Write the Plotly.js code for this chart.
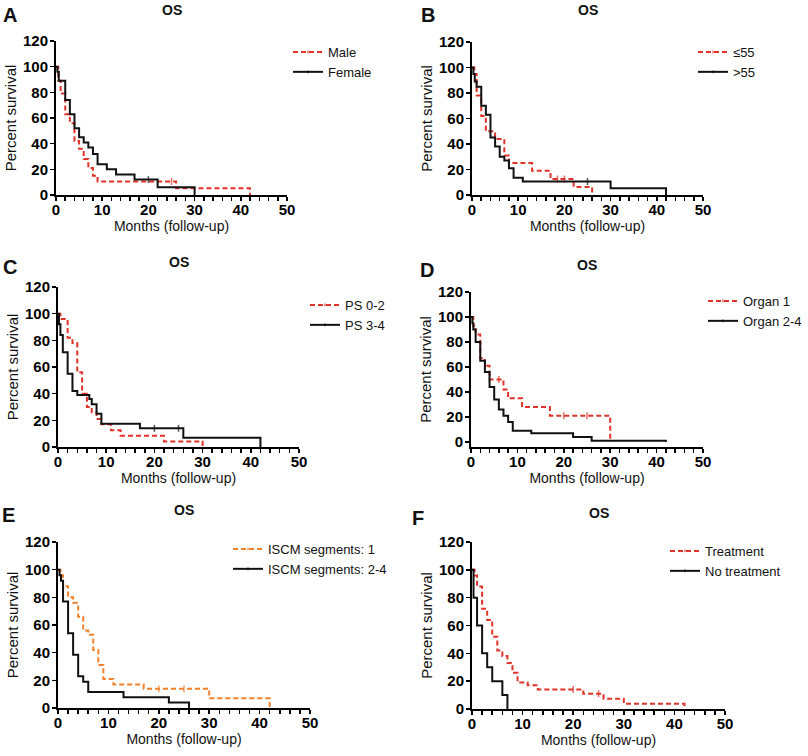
<!DOCTYPE html>
<html><head><meta charset="utf-8">
<script src="https://cdn.plot.ly/plotly-3.0.1.min.js"></script>
<style>html,body{margin:0;padding:0;background:#fff}#chart{width:808px;height:756px}</style>
</head><body><div id="chart"></div>
<script>
// ---------- data (months, percent survival, censored flag) ----------
const monthTicks = [0, 10, 20, 30, 40, 50];
const survTicks = [0, 20, 40, 60, 80, 100, 120];
const panelLetters = ["A", "B", "C", "D", "E", "F"];
const panelTitle = "OS";

// A: sex
const aMaleT = [0, 0.5, 1, 2, 3, 4, 5, 6, 7, 8, 9, 25, 26, 42];
const aMaleS = [100, 89, 79, 63, 56, 42, 36, 28, 21, 15, 10.5, 10.5, 5.3, 0];
const aMaleC = [0, 0, 0, 0, 0, 0, 0, 0, 0, 0, 0, 1, 0, 0];
const aFemaleT = [0, 0.3, 0.6, 2, 3, 4, 5, 6, 7, 8, 9, 11, 13, 17, 20, 22, 30];
const aFemaleS = [100, 96, 89, 74, 63, 52, 45, 41, 37, 32, 24, 20, 16, 12, 12, 6, 0];
const aFemaleC = [0, 0, 0, 0, 0, 0, 0, 0, 0, 0, 0, 0, 0, 0, 1, 0, 0];

// B: age
const bYoungT = [0, 0.5, 1, 2, 3, 5, 7, 8, 13, 17, 18.5, 20, 22, 26];
const bYoungS = [100, 95, 78, 62, 50, 44, 31, 25, 19, 12.5, 12.5, 12.5, 6.3, 0];
const bYoungC = [0, 0, 0, 0, 0, 0, 0, 0, 0, 0, 1, 1, 0, 0];
const bOldT = [0, 0.3, 0.6, 1, 2, 3, 4, 5, 6, 7, 8, 9, 11, 25, 30, 42];
const bOldS = [100, 95, 89, 85, 70, 63, 45, 38, 30, 27, 21, 13.5, 10.5, 10.5, 5.3, 0];
const bOldC = [0, 0, 0, 0, 0, 0, 0, 0, 0, 0, 0, 0, 0, 1, 0, 0];

// C: performance status
const cPs02T = [0, 0.5, 2, 3, 4, 5, 6, 7, 8, 9, 11, 13, 22, 30];
const cPs02S = [100, 96, 82, 78, 56, 40, 30, 26, 21, 17, 12.5, 8.5, 4.2, 0];
const cPs02C = [0, 0, 0, 0, 0, 0, 0, 0, 0, 0, 0, 0, 0, 0];
const cPs34T = [0, 0.2, 0.5, 1, 2, 3, 4, 6.5, 7, 8, 9, 17, 20, 25, 26, 42];
const cPs34S = [100, 92, 84, 71, 55, 42, 39, 36, 32, 25, 17.5, 14, 14, 14, 7, 0];
const cPs34C = [0, 0, 0, 0, 0, 0, 0, 0, 0, 0, 0, 0, 1, 1, 0, 0];

// D: organs involved
const dOrgan1T = [0, 0.5, 1, 2, 3, 4, 6, 7, 8, 11, 17, 20, 25, 30];
const dOrgan1S = [100, 93, 86, 67, 61, 50, 50, 42, 35, 28, 21, 21, 21, 0];
const dOrgan1C = [0, 0, 0, 0, 0, 0, 1, 0, 0, 0, 0, 1, 1, 0];
const dOrgan24T = [0, 0.3, 0.5, 1, 2, 3, 4, 5, 6, 7, 8, 9, 13, 22, 26, 42];
const dOrgan24S = [100, 95, 90, 80, 65, 56, 44, 34, 26, 21, 16, 9, 7, 4, 1, 0];
const dOrgan24C = [0, 0, 0, 0, 0, 0, 0, 0, 0, 0, 0, 0, 0, 0, 0, 0];

// E: ISCM segments
const eSeg1T = [0, 0.5, 1, 2, 3, 4, 5, 6, 7, 8, 9, 11, 17, 20, 25, 30, 42];
const eSeg1S = [100, 96, 88, 80, 76, 66, 56, 53, 42, 31, 21, 17, 14, 14, 14, 7, 0];
const eSeg1C = [0, 0, 0, 0, 0, 0, 0, 0, 0, 0, 0, 0, 0, 1, 1, 0, 0];
const eSeg24T = [0, 0.3, 0.6, 1, 2, 3, 4, 5, 6, 13, 22, 26];
const eSeg24S = [100, 96, 92, 77, 54, 38.5, 23, 19, 11.5, 7.7, 3.9, 0];
const eSeg24C = [0, 0, 0, 0, 0, 0, 0, 0, 0, 0, 0, 0];

// F: treatment
const fTreatT = [0, 0.5, 1, 2, 3, 4, 5, 6, 7, 8, 9, 11, 13, 20, 22, 25, 26, 30, 42];
const fTreatS = [100, 96, 88, 72, 64, 52, 42, 38, 33, 26, 19, 17, 14, 14, 11, 11, 7.4, 3.7, 0];
const fTreatC = [0, 0, 0, 0, 0, 0, 0, 0, 0, 0, 0, 0, 0, 1, 0, 1, 0, 0, 0];
const fNoTreatT = [0, 0.3, 1, 2, 3, 4, 6, 7];
const fNoTreatS = [100, 80, 60, 40, 30, 20, 10, 0];
const fNoTreatC = [0, 0, 0, 0, 0, 0, 0, 0];

// ---------- styling / layout ----------
const W = 808, H = 756;
const RED = "#df3329", ORANGE = "#f0802a", BLACK = "#111111";
const FONT = "Liberation Sans, Arial, sans-serif";

// plot boxes in pixels: left, right, top(120), bottom(axis)
const boxes = [
  {l: 56, r: 287, t: 41, b: 195, ymin: 0},
  {l: 472, r: 703, t: 42, b: 195, ymin: 0},
  {l: 58, r: 299, t: 287, b: 447, ymin: 0},
  {l: 471, r: 703, t: 292, b: 447, ymin: -4},
  {l: 58, r: 310, t: 542, b: 708, ymin: 0},
  {l: 472, r: 725, t: 542, b: 709, ymin: 0}
];
const legendPos = [[288, 37], [693, 37], [305, 290], [703, 286], [228, 534], [665, 536]];
const letterPos = [[10, 15], [428, 15], [10, 267], [427, 270], [8, 515], [418, 518]];

const series = [
  [["Male", aMaleT, aMaleS, aMaleC, RED, true], ["Female", aFemaleT, aFemaleS, aFemaleC, BLACK, false]],
  [["\u226455", bYoungT, bYoungS, bYoungC, RED, true], [">55", bOldT, bOldS, bOldC, BLACK, false]],
  [["PS 0-2", cPs02T, cPs02S, cPs02C, RED, true], ["PS 3-4", cPs34T, cPs34S, cPs34C, BLACK, false]],
  [["Organ 1", dOrgan1T, dOrgan1S, dOrgan1C, RED, true], ["Organ 2-4", dOrgan24T, dOrgan24S, dOrgan24C, BLACK, false]],
  [["ISCM segments: 1", eSeg1T, eSeg1S, eSeg1C, ORANGE, true], ["ISCM segments: 2-4", eSeg24T, eSeg24S, eSeg24C, BLACK, false]],
  [["Treatment", fTreatT, fTreatS, fTreatC, RED, true], ["No treatment", fNoTreatT, fNoTreatS, fNoTreatC, BLACK, false]]
];

const traces = [];
const layout = {
  width: W, height: H, margin: {l: 0, r: 0, t: 0, b: 0},
  paper_bgcolor: "#fff", plot_bgcolor: "rgba(0,0,0,0)",
  font: {family: FONT, color: "#111"},
  showlegend: true, annotations: []
};

boxes.forEach((bx, i) => {
  const n = i === 0 ? "" : String(i + 1);
  const xa = "x" + n, ya = "y" + n;
  const legName = "legend" + n;
  series[i].forEach(s => {
    const [name, T, S, C, color, dashed] = s;
    traces.push({
      type: "scatter", mode: "lines+markers", name: name,
      x: T, y: S, xaxis: xa, yaxis: ya, legend: legName,
      line: {shape: "hv", color: color, width: 2, dash: dashed ? "5px,3px" : "solid"},
      marker: {symbol: "line-ns", size: C.map(c => c ? 5 : 0), color: color, line: {color: color, width: 1.5}},
      hoverinfo: "x+y+name"
    });
  });
  layout["xaxis" + n] = {
    domain: [bx.l / W, bx.r / W], anchor: ya, range: [0, 50],
    tickmode: "array", tickvals: monthTicks, ticktext: monthTicks.map(String),
    ticks: "outside", ticklen: 4, tickwidth: 1.5, tickcolor: "#000", ticklabelstandoff: -4,
    minor: {dtick: 2, tick0: 0, ticks: "outside", ticklen: 4, tickwidth: 1.5, tickcolor: "#000", showgrid: false},
    showline: true, linecolor: "#000", linewidth: 2, showgrid: false, zeroline: false,
    tickfont: {family: FONT, size: 15, color: "#000", weight: "bold"},
    title: {text: "Months (follow-up)", font: {family: FONT, size: 14, color: "#111"}, standoff: 3},
    fixedrange: true
  };
  layout["yaxis" + n] = {
    domain: [1 - bx.b / H, 1 - bx.t / H], anchor: xa, range: [bx.ymin, 120],
    tickmode: "array", tickvals: survTicks, ticktext: survTicks.map(String),
    ticks: "outside", ticklen: 4, tickwidth: 1.5, tickcolor: "#000", ticklabelstandoff: -1,
    showline: true, linecolor: "#000", linewidth: 2, showgrid: false, zeroline: false,
    tickfont: {family: FONT, size: 15, color: "#000", weight: "bold"},
    title: {text: "Percent survival", font: {family: FONT, size: 15, color: "#111"}, standoff: 3},
    fixedrange: true
  };
  layout[legName] = {
    x: legendPos[i][0] / W, y: 1 - legendPos[i][1] / H, xanchor: "left", yanchor: "top",
    bgcolor: "rgba(0,0,0,0)", borderwidth: 0, itemwidth: 30, tracegroupgap: 0,
    font: {family: FONT, size: 13, color: "#111"}, traceorder: "normal"
  };
  // panel title and letter
  layout.annotations.push({
    xref: "paper", yref: "paper", x: (bx.l + bx.r) / 2 / W, y: 1 - (letterPos[i][1] - 5) / H,
    text: "<b>" + panelTitle + "</b>", showarrow: false, xanchor: "center", yanchor: "middle",
    font: {family: FONT, size: 14, color: "#111"}
  });
  layout.annotations.push({
    xref: "paper", yref: "paper", x: letterPos[i][0] / W, y: 1 - letterPos[i][1] / H,
    text: "<b>" + panelLetters[i] + "</b>", showarrow: false, xanchor: "center", yanchor: "middle",
    font: {family: FONT, size: 20, color: "#111"}
  });
});

Plotly.newPlot("chart", traces, layout, {displayModeBar: false, staticPlot: true});
</script>
</body></html>
